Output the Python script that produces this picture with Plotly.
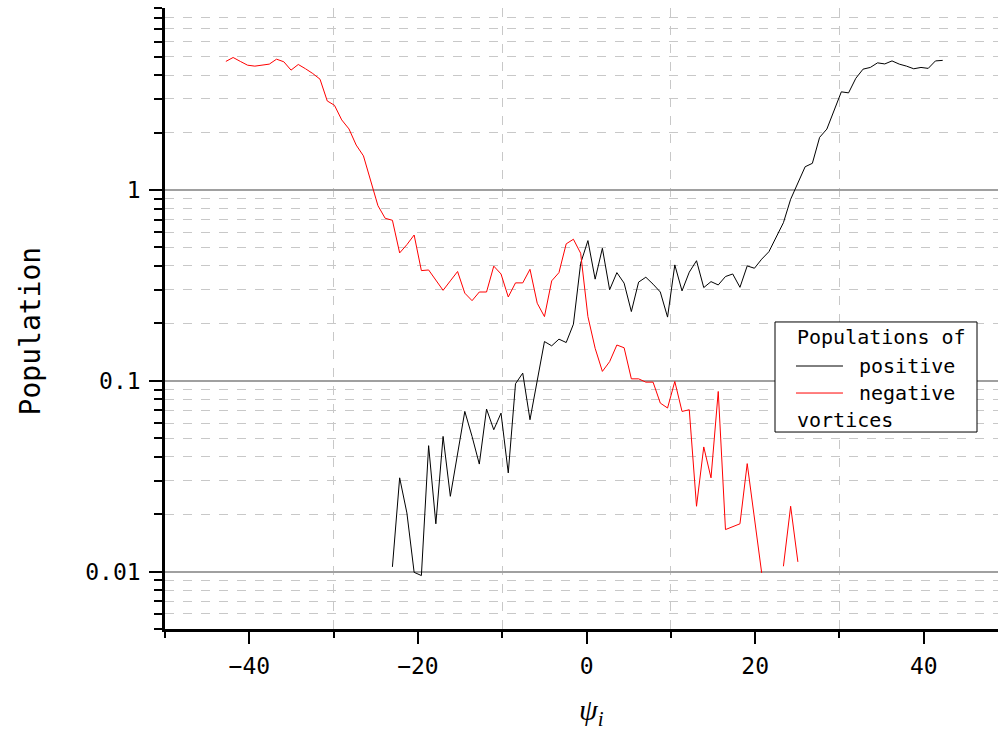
import plotly.graph_objects as go

# Bin grid of psi_i (bin centres)
PSI_START = -42.78
PSI_STEP = 0.8588
N_BINS = 100
psi = [round(PSI_START + PSI_STEP * k, 3) for k in range(N_BINS)]

# Population of negative vortices per bin (None = empty bin)
negative = [
    4.72, 4.95, 4.72, 4.51, 4.46, 4.50, 4.57, 4.85, 4.70, 4.25,
    4.55, 4.32, 4.08, 3.81, 2.93, 2.78, 2.33, 2.09, 1.72, 1.51,
    1.13, 0.828, 0.711, 0.694, 0.468, 0.517, 0.581, 0.378, 0.381, 0.338,
    0.298, 0.334, 0.374, 0.288, 0.263, 0.292, 0.292, 0.399, 0.363, 0.275,
    0.326, 0.326, 0.384, 0.255, 0.217, 0.334, 0.369, 0.522, 0.552, 0.466,
    0.217, 0.148, 0.112, 0.126, 0.154, 0.149, 0.1024, 0.1024, 0.0984, 0.0984,
    0.0764, 0.0720, 0.0992, 0.0691, 0.0705, 0.0220, 0.0450, 0.0310, 0.0879, 0.0166,
    0.0172, 0.0178, 0.0368, 0.0190, 0.00984, None, None, 0.01066, 0.0220, 0.01124,
] + [None] * 20

# Population of positive vortices per bin (None = empty bin)
positive = [None] * 23 + [
    0.01058, 0.0310, 0.0203, 0.00991, 0.00953, 0.0457, 0.0178, 0.0511, 0.0248, 0.0415,
    0.0691, 0.0511, 0.0366, 0.0711, 0.0554, 0.0677, 0.0329, 0.0965, 0.1097, 0.0625,
    0.100, 0.1606, 0.1525, 0.1653, 0.1587, 0.198, 0.413, 0.543, 0.341, 0.495,
    0.300, 0.369, 0.325, 0.2306, 0.329, 0.349, 0.321, 0.292, 0.2157, 0.405,
    0.296, 0.371, 0.426, 0.308, 0.331, 0.318, 0.352, 0.363, 0.309, 0.400,
    0.389, 0.434, 0.475, 0.563, 0.674, 0.894, 1.097, 1.324, 1.380, 1.888,
    2.086, 2.624, 3.27, 3.23, 3.85, 4.30, 4.39, 4.64, 4.58, 4.75,
    4.57, 4.46, 4.32, 4.39, 4.34, 4.75, 4.78,
]

y_major = [0.01, 0.1, 1]
y_major_text = ["0.01", "0.1", "1"]
y_minor = [d * m for d in (0.001, 0.01, 0.1, 1) for m in range(2, 10)]

MONO = "DejaVu Sans Mono"

fig = go.Figure()
fig.add_trace(go.Scatter(x=psi, y=positive, mode="lines", name="positive",
                         line=dict(color="#000000", width=1), connectgaps=False,
                         showlegend=False))
fig.add_trace(go.Scatter(x=psi, y=negative, mode="lines", name="negative",
                         line=dict(color="#ff0000", width=1), connectgaps=False,
                         showlegend=False))

fig.update_xaxes(
    range=[-50, 48.8], tick0=0, dtick=20,
    showgrid=False, zeroline=False,
    showline=True, linecolor="black", linewidth=2.5,
    ticks="outside", ticklen=12, tickwidth=2, tickcolor="black",
    ticklabelstandoff=3,
    tickfont=dict(family=MONO, size=23, color="black"),
    minor=dict(dtick=10, ticks="outside", ticklen=6, tickwidth=2, tickcolor="black",
               showgrid=True, gridcolor="#c8c8c8", griddash="dash", gridwidth=1),
)
fig.update_yaxes(
    type="log", range=[-2.301, 0.954],
    tickmode="array", tickvals=y_major, ticktext=y_major_text,
    showgrid=True, gridcolor="#a0a0a0", gridwidth=1.5,
    zeroline=False,
    showline=True, linecolor="black", linewidth=2.5,
    ticks="outside", ticklen=13, tickwidth=2, tickcolor="black",
    ticklabelstandoff=4,
    tickfont=dict(family=MONO, size=23, color="black"),
    minor=dict(tickmode="array", tickvals=y_minor, ticks="outside", ticklen=8,
               tickwidth=2, tickcolor="black",
               showgrid=True, gridcolor="#c8c8c8", griddash="dash", gridwidth=1),
)

# Legend box drawn in paper coordinates
shapes = [
    dict(type="rect", xref="paper", yref="paper", x0=0.7323, x1=0.9748, y0=0.3172, y1=0.4944,
         line=dict(color="black", width=1), fillcolor="white", layer="above"),
    dict(type="line", xref="paper", yref="paper", x0=0.7575, x1=0.8139, y0=0.4235, y1=0.4235,
         line=dict(color="black", width=1), layer="above"),
    dict(type="line", xref="paper", yref="paper", x0=0.7575, x1=0.8139, y0=0.3800, y1=0.3800,
         line=dict(color="#ff0000", width=1), layer="above"),
]
legend_font = dict(family=MONO, size=20, color="black")
annotations = [
    dict(text="Populations of", x=0.7563, y=0.4702, xref="paper", yref="paper",
         xanchor="left", yanchor="middle", showarrow=False, font=legend_font),
    dict(text="positive", x=0.8307, y=0.4235, xref="paper", yref="paper",
         xanchor="left", yanchor="middle", showarrow=False, font=legend_font),
    dict(text="negative", x=0.8307, y=0.3800, xref="paper", yref="paper",
         xanchor="left", yanchor="middle", showarrow=False, font=legend_font),
    dict(text="vortices", x=0.7563, y=0.3366, xref="paper", yref="paper",
         xanchor="left", yanchor="middle", showarrow=False, font=legend_font),
    # axis titles
    dict(text="Population", x=-0.1615, y=0.480, xref="paper", yref="paper",
         xanchor="center", yanchor="middle", textangle=-90, showarrow=False,
         font=dict(family=MONO, size=28, color="black")),
    dict(text="<i>ψ</i><sub><i>i</i></sub>", x=0.5126, y=-0.133, xref="paper", yref="paper",
         xanchor="center", yanchor="middle", showarrow=False,
         font=dict(family="Liberation Serif", size=30, color="black")),
]

fig.update_layout(
    width=998, height=737,
    margin=dict(l=165, r=0, t=8, b=108),
    paper_bgcolor="white", plot_bgcolor="white",
    shapes=shapes, annotations=annotations,
    showlegend=False,
)

fig.write_html("out.html")
